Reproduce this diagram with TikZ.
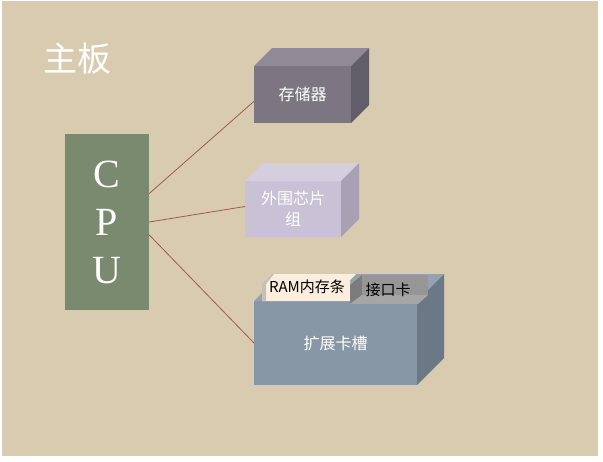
\documentclass[tikz,border=0pt]{standalone}
\usepackage{fontspec}
\setmainfont{Liberation Serif}
\newfontfamily\cjk{Noto Sans CJK SC}
\usetikzlibrary{positioning}

\definecolor{boardbg}{HTML}{D9CBB0}
\definecolor{cpugreen}{HTML}{7A8A6F}
\definecolor{linkred}{HTML}{9E5B50}
\definecolor{memfront}{HTML}{7B7682}
\definecolor{memtop}{HTML}{8F8A96}
\definecolor{memside}{HTML}{625E69}
\definecolor{chipfront}{HTML}{C9C1D5}
\definecolor{chiptop}{HTML}{D5CEE1}
\definecolor{chipside}{HTML}{A8A0B3}
\definecolor{slotfront}{HTML}{8797A6}
\definecolor{slottop}{HTML}{94A3B2}
\definecolor{slotside}{HTML}{6B7986}
\definecolor{ramtab}{HTML}{FCEEDF}
\definecolor{rambevel}{HTML}{C8C0B8}
\definecolor{portfront}{HTML}{969696}
\definecolor{portleft}{HTML}{7C7C7C}
\definecolor{portbottom}{HTML}{A6A6A6}

\begin{document}
\begin{tikzpicture}[x=1pt, y=-1pt,
  face/.style={inner sep=0pt, outer sep=0pt, text=white, align=center,
    font=\cjk\fontsize{16}{21}\selectfont},
  tab/.style={inner sep=0pt, text=black, font=\cjk\fontsize{15}{17}\selectfont},
  link/.style={draw=linkred, line width=0.8pt}]
  \useasboundingbox (0,0) rectangle (603,461);
  \fill[boardbg] (2,1) rectangle (598,456);

  \node[text=white, font=\cjk\fontsize{34}{40}\selectfont] (title) at (77,59) {主板};

  \node[fill=cpugreen, inner sep=0pt, minimum width=84pt, minimum height=176pt,
    text=white, align=center, font=\fontsize{40}{48}\selectfont] (cpu) at (107,222) {C\\P\\U};

  % memory block
  \node[face, fill=memfront, minimum width=97pt, minimum height=57pt] (mem) at (302.5,94.5) {存储器};
  \fill[memtop] (mem.north west) -- ++(18,-18) -- ++(97,0) -- (mem.north east) -- cycle;
  \fill[memside] (mem.north east) -- ++(18,-18) -- ++(0,57) -- (mem.south east) -- cycle;

  % chipset block
  \node[face, fill=chipfront, minimum width=96pt, minimum height=56pt] (chip) at (293,209) {外围芯片\\组};
  \fill[chiptop] (chip.north west) -- ++(18,-18) -- ++(96,0) -- (chip.north east) -- cycle;
  \fill[chipside] (chip.north east) -- ++(18,-18) -- ++(0,56) -- (chip.south east) -- cycle;

  % expansion slot block
  \node[face, fill=slotfront, minimum width=163pt, minimum height=84pt] (slot) at (335.5,343) {扩展卡槽};
  \fill[slottop] (slot.north west) -- ++(27,-27) -- ++(163,0) -- (slot.north east) -- cycle;
  \fill[slotside] (slot.north east) -- ++(27,-27) -- ++(0,84) -- (slot.south east) -- cycle;

  % cards in the slot
  \fill[ramtab] (262,301) -- (262,283) -- (271,274) -- (356,274) -- (350,280) -- (350,301) -- cycle;
  \fill[rambevel] (262,301) -- (262,283) -- (271,274) -- (274,274) -- (266,284) -- (266,301) -- cycle;
  \fill[portleft] (350,304) -- (350,285) -- (362,275) -- (362,295) -- cycle;
  \fill[portfront] (362,275) rectangle (428,295);
  \fill[portbottom] (350,304) -- (362,295) -- (428,295) -- (418,304) -- cycle;
  \node[tab] (ram) at (307,287) {RAM内存条};
  \node[tab] (port) at (388,290) {接口卡};

  \draw[link] (cpu.34) -- (mem.188);
  \draw[link] (cpu.east) -- (chip.177);
  \draw[link] (cpu.-17) -- (slot.west);
\end{tikzpicture}
\end{document}
